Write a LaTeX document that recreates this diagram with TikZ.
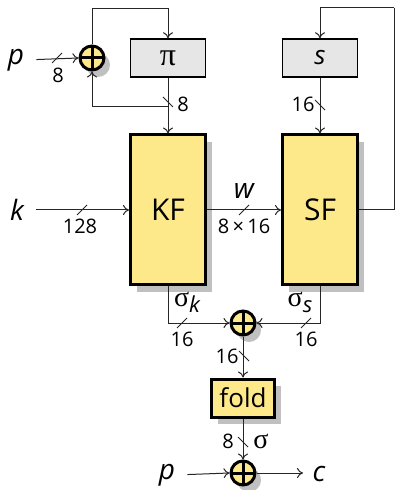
\documentclass[tikz,border=0pt]{standalone}
\usepackage{fontspec}
\setmainfont{Open Sans}
\newfontfamily\grkfont{Liberation Serif}
\usetikzlibrary{calc,arrows.meta,shadows}
\definecolor{boxyellow}{RGB}{254,233,138}
\definecolor{boxgray}{RGB}{230,230,230}
\definecolor{shadowgray}{RGB}{192,192,192}
\newcommand\subit[1]{\raisebox{-3pt}{\fontsize{11}{13}\selectfont\itshape #1}}
\begin{document}
\begin{tikzpicture}[x=0.5pt,y=-0.5pt,
  conn/.style={draw=black!85,line width=0.5pt},
  arr/.style={conn,-{To[length=3pt,width=5pt]}},
  shad/.style={drop shadow={shadow xshift=3pt,shadow yshift=-3.5pt,fill=shadowgray,opacity=1}},
  fbox/.style={draw,line width=1.5pt,fill=boxyellow,shad,minimum width=37.5pt,minimum height=75pt,inner sep=0pt,font=\fontsize{15}{18}\selectfont},
  foldbox/.style={draw,line width=1.5pt,fill=boxyellow,shad,minimum width=31.5pt,minimum height=19pt,inner sep=0pt,font=\fontsize{13}{16}\selectfont},
  gbox/.style={draw,line width=0.75pt,fill=boxgray,minimum width=37.5pt,minimum height=19pt,inner sep=0pt,font=\fontsize{13}{16}\selectfont},
  xorn/.style={circle,draw,line width=1.5pt,fill=boxyellow,shad,minimum size=12pt,inner sep=0pt,
    path picture={\draw[line width=1.5pt] (path picture bounding box.north) -- (path picture bounding box.south)
      (path picture bounding box.west) -- (path picture bounding box.east);}},
  biglab/.style={inner sep=0pt,font=\fontsize{14}{16}\selectfont\itshape},
  numlab/.style={inner sep=0pt,font=\fontsize{10}{12}\selectfont},
  siglab/.style={inner sep=0pt,font=\fontsize{12}{14}\selectfont},
  hcut/.pic={\draw[conn] (-5,5) -- (5,-5);},
  vcut/.pic={\draw[conn] (-5,-5) -- (5,5);}
]
\useasboundingbox (0,0) rectangle (395,490);

% nodes
\node[xorn] (x1) at (92,58) {};
\node[gbox] (pi) at (168,58) {\grkfont\fontsize{16}{18}\selectfont π};
\node[gbox] (s) at (320,58) {\itshape s};
\node[fbox] (kf) at (168,210) {KF};
\node[fbox] (sf) at (320,210) {SF};
\node[xorn] (x2) at (243,323) {};
\node[foldbox] (fold) at (243,398) {fold};
\node[xorn] (x3) at (243,473) {};

\node[biglab] (p1) at (16,60) {p};
\node[biglab] (k) at (17,210) {k};
\node[biglab] (p2) at (167,475) {p};
\node[biglab] (c) at (319,474) {c};

\coordinate (t1) at (92,9);
\coordinate (b1) at (168,107);
\coordinate (r1) at (394,210);
\coordinate (r2) at (394,8);
\coordinate (cend) at (303,473);

% top left loop
\draw[arr,shorten <=6pt] (p1.east) -- (x1.west);
\draw[arr] (x1.north) -- (t1) -| (pi.north);
\draw[arr] (pi.south) -- (kf.north);
\draw[arr] (b1) -| (x1.south);
\pic at (57,58) {hcut};
\node[numlab] at (58,75) {8};
\pic at (168,102) {vcut};
\node[numlab] at (183,104) {8};

% top right loop
\draw[conn] (sf.east) -- (r1) -- (r2);
\draw[arr] (r2) -| (s.north);
\draw[arr] (s.south) -- (sf.north);
\pic at (320,105) {vcut};
\node[numlab] at (303,104) {16};

% middle
\draw[arr,shorten <=6pt] (k.east) -- (kf.west);
\pic at (82,210) {hcut};
\node[numlab] at (80,226) {128};
\draw[arr] (kf.east) -- (sf.west);
\pic at (244,210) {hcut};
\node[biglab] at (244,191) {w};
\node[numlab] at (244,226) {8\,×\,16};

% bottom
\draw[arr] (kf.south) |- (x2.west);
\draw[arr] (sf.south) |- (x2.east);
\node[siglab] at (187,302) {{\grkfont\fontsize{14}{16}\selectfont σ}\subit{k}};
\node[siglab] at (300,302) {{\grkfont\fontsize{14}{16}\selectfont σ}\subit{s}};
\pic at (182,323) {hcut};
\node[numlab] at (182,339) {16};
\pic at (306,323) {hcut};
\node[numlab] at (306,339) {16};

\draw[arr] (x2.south) -- (fold.north);
\pic at (244,356) {vcut};
\node[numlab] at (227,356) {16};

\draw[arr] (fold.south) -- (x3.north);
\pic at (243,442) {vcut};
\node[numlab] at (228,441) {8};
\node[siglab] at (261,441) {\grkfont\fontsize{14}{16}\selectfont σ};

\draw[arr,shorten <=6pt] (p2.east) -- (x3.west);
\draw[arr] (x3.east) -- (cend);
\end{tikzpicture}
\end{document}
